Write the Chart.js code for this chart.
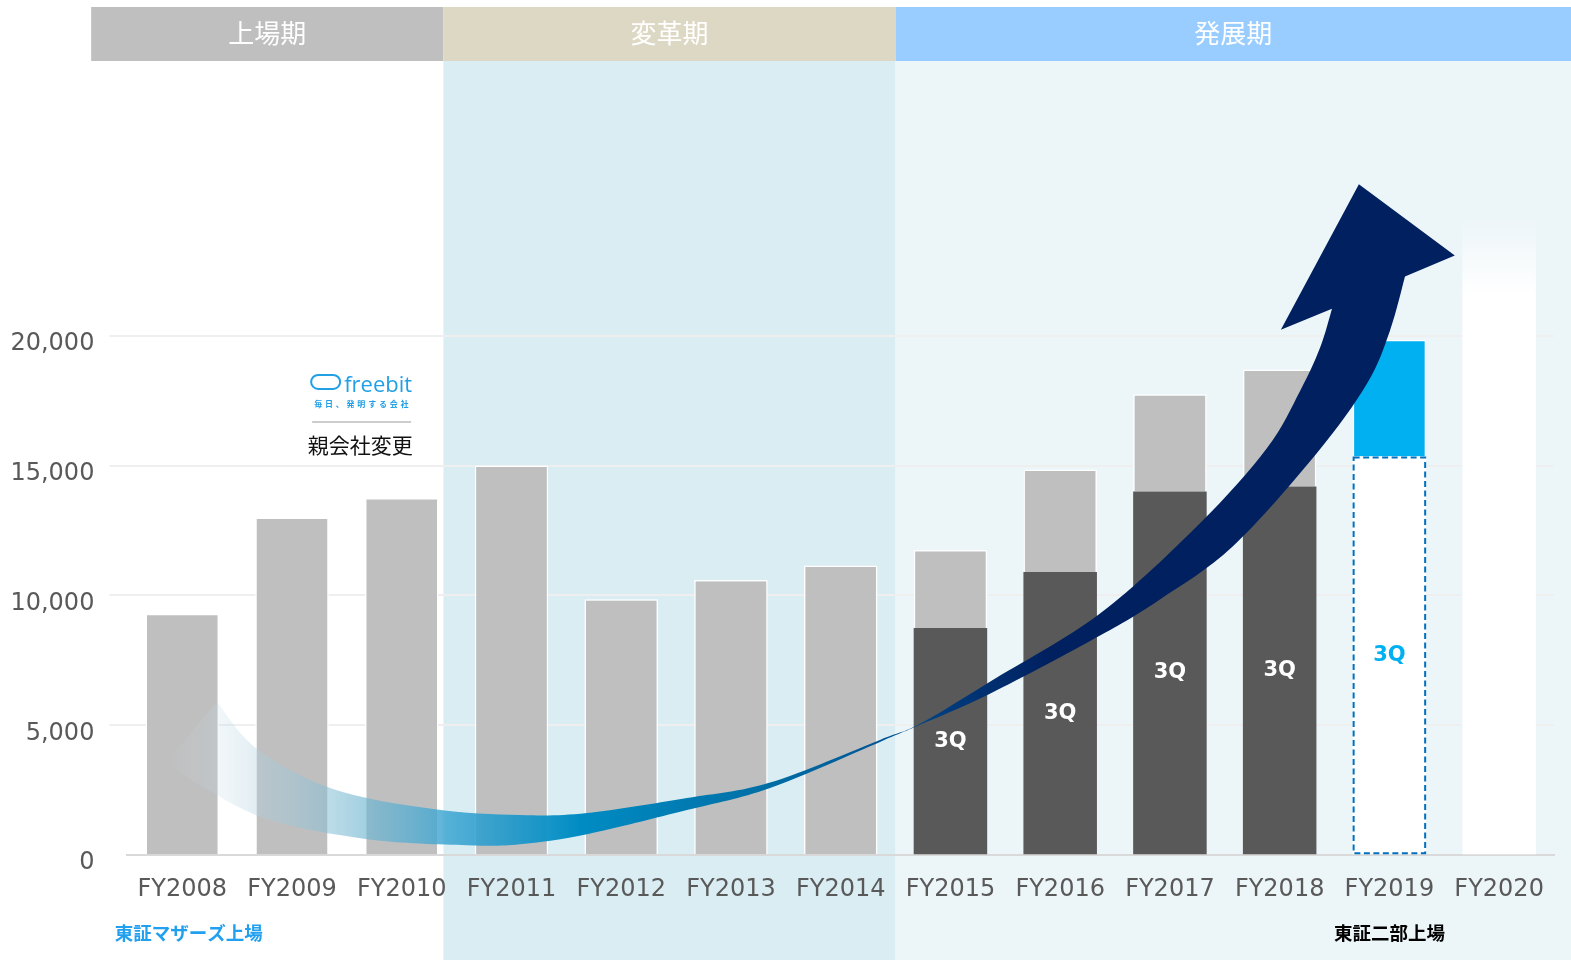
<!DOCTYPE html>
<html lang="ja">
<head>
<meta charset="UTF-8">
<title>売上高推移</title>
<script src="https://cdn.jsdelivr.net/npm/chart.js@4.4.1/dist/chart.umd.min.js"></script>
<style>
    body { margin: 0; background: #ffffff; }
    #grafico { position: relative; width: 1571px; height: 960px; }
</style>
</head>
<body>
<div id="grafico"><canvas id="vendas"></canvas></div>
<script>
// dados
const years = ["FY2008", "FY2009", "FY2010", "FY2011", "FY2012", "FY2013", "FY2014",
    "FY2015", "FY2016", "FY2017", "FY2018", "FY2019", "FY2020"];
const fullYear = [9300, 13000, 13750, 15000, 9850, 10600, 11150, 11750, 14850, 17750, 18700, 19850, 24600];
const q3 = [null, null, null, null, null, null, null, 8750, 10900, 14000, 14200, 15350, null];
const yTicks = [0, 5000, 10000, 15000, 20000];
const q3Label = "3Q";

const periods = ["上場期", "変革期", "発展期"];
const periodStart = [-0.83, 2.38, 6.5];   // em unidades de categoria
const periodHeadColor = ["#bfbfbf", "#ddd8c3", "#99ccff"];
const periodBodyColor = [null, "#daedf3", "#ecf5f8"];

const forecastIdx = years.indexOf("FY2019");
const futureIdx = years.indexOf("FY2020");

// seta (categoria, valor)
const arrowUpper = [[0.316, 5907], [0.681, 4093], [1.373, 2548], [2.285, 1776], [3.077, 1545],
    [3.688, 1622], [4.599, 2200], [5.356, 2800], [6.358, 4440], [6.722, 5058], [7.360, 6680],
    [8.363, 9305], [9.274, 12780], [9.885, 15676], [10.186, 17876], [10.368, 19537], [10.477, 21042]];
const arrowHead = [[10.011, 20230], [10.722, 25830], [11.596, 23090]];
const arrowLower = [[11.142, 22278], [11.005, 20193], [10.795, 18147], [10.340, 15483], [9.574, 11892],
    [8.909, 9846], [8.363, 8456], [7.360, 6216], [6.722, 5019], [6.358, 4363], [5.356, 2587],
    [4.599, 1737], [3.688, 811], [3.077, 425], [2.594, 386], [1.683, 618], [0.772, 1390],
    [0.161, 2703], [-0.139, 3591]];

const rest = fullYear.map((v, i) => q3[i] == null ? v : v - q3[i]);

Chart.defaults.font.family = "'DejaVu Sans', sans-serif";

// catmull-rom passando pelos pontos
function splineTo(ctx, pts) {
    for (let i = 0; i < pts.length - 1; i++) {
        const p0 = pts[i - 1] || pts[i];
        const p1 = pts[i];
        const p2 = pts[i + 1];
        const p3 = pts[i + 2] || p2;
        ctx.bezierCurveTo(
            p1[0] + (p2[0] - p0[0]) / 6, p1[1] + (p2[1] - p0[1]) / 6,
            p2[0] - (p3[0] - p1[0]) / 6, p2[1] - (p3[1] - p1[1]) / 6,
            p2[0], p2[1]);
    }
}

const bandsPlugin = {
    id: "bands",
    beforeDraw(chart) {
        const ctx = chart.ctx;
        const x = chart.scales.x;
        const edges = periodStart.map(p => x.getPixelForValue(p));
        edges.push(chart.width);
        ctx.save();
        periods.forEach((nome, i) => {
            const l = edges[i], r = edges[i + 1];
            if (periodBodyColor[i]) {
                ctx.fillStyle = periodBodyColor[i];
                ctx.fillRect(l, 61, r - l, chart.height - 61);
            }
            ctx.fillStyle = periodHeadColor[i];
            ctx.fillRect(l, 7, r - l, 54);
            ctx.fillStyle = "#ffffff";
            ctx.font = "26px 'Noto Sans CJK JP'";
            ctx.textAlign = "center";
            ctx.textBaseline = "middle";
            ctx.fillText(nome, (l + r) / 2, 33);
        });
        ctx.restore();
    }
};

const decorPlugin = {
    id: "decor",
    afterDatasetsDraw(chart) {
        const ctx = chart.ctx;
        const x = chart.scales.x, y = chart.scales.y;
        const meta0 = chart.getDatasetMeta(0);

        // borda tracejada da previsao
        const fb = meta0.data[forecastIdx];
        ctx.save();
        ctx.strokeStyle = "#0070c0";
        ctx.lineWidth = 2;
        ctx.setLineDash([6, 3.5]);
        ctx.strokeRect(fb.x - fb.width / 2 + 1, fb.y + 1, fb.width - 2, fb.base - fb.y - 2);
        ctx.restore();

        // seta
        const toPx = p => [x.getPixelForValue(p[0]), y.getPixelForValue(p[1])];
        const up = arrowUpper.map(toPx);
        const head = arrowHead.map(toPx);
        const low = arrowLower.map(toPx);
        const g0 = x.getPixelForValue(-0.14), g1 = x.getPixelForValue(7.9);
        const grad = ctx.createLinearGradient(g0, 0, g1, 0);
        grad.addColorStop(0, "rgba(215,230,238,0)");
        grad.addColorStop(0.094, "rgba(180,210,225,0.35)");
        grad.addColorStop(0.207, "rgba(120,185,210,0.6)");
        grad.addColorStop(0.32, "rgba(60,165,210,0.85)");
        grad.addColorStop(0.468, "rgb(0,140,195)");
        grad.addColorStop(0.683, "rgb(0,110,165)");
        grad.addColorStop(0.807, "rgb(0,85,150)");
        grad.addColorStop(0.898, "rgb(0,55,120)");
        grad.addColorStop(1, "rgb(0,32,96)");
        ctx.save();
        ctx.beginPath();
        ctx.moveTo(up[0][0], up[0][1]);
        splineTo(ctx, up);
        head.forEach(p => ctx.lineTo(p[0], p[1]));
        ctx.lineTo(low[0][0], low[0][1]);
        splineTo(ctx, low);
        ctx.closePath();
        ctx.fillStyle = grad;
        ctx.fill();
        ctx.restore();

        // rotulos 3Q
        ctx.save();
        ctx.font = "bold 21px 'DejaVu Sans'";
        ctx.textAlign = "center";
        ctx.textBaseline = "middle";
        meta0.data.forEach((el, i) => {
            if (q3[i] == null) return;
            ctx.fillStyle = i === forecastIdx ? "#00b0f0" : "#ffffff";
            ctx.fillText(q3Label, el.x, (el.y + el.base) / 2);
        });
        ctx.restore();

        // logo freebit / 親会社変更
        const cx = x.getPixelForValue(1.63);
        const top = y.getPixelForValue(18800);
        ctx.save();
        ctx.strokeStyle = "#22a0e6";
        ctx.lineWidth = 2;
        ctx.beginPath();
        ctx.roundRect(cx - 50, top + 8, 29, 14, 7);
        ctx.stroke();
        ctx.fillStyle = "#22a0e6";
        ctx.font = "22px 'Open Sans'";
        ctx.textAlign = "left";
        ctx.textBaseline = "alphabetic";
        ctx.fillText("freebit", cx - 17, top + 25);
        ctx.font = "bold 8px 'Noto Sans CJK JP'";
        ctx.textAlign = "center";
        ctx.textBaseline = "middle";
        Array.from("毎日、発明する会社").forEach((ch, i) => {
            ctx.fillText(ch, cx - 43 + i * 10.8, top + 37);
        });
        ctx.strokeStyle = "#bbbbbb";
        ctx.lineWidth = 1.5;
        ctx.beginPath();
        ctx.moveTo(cx - 49, top + 55);
        ctx.lineTo(cx + 50, top + 55);
        ctx.stroke();
        ctx.fillStyle = "#111111";
        ctx.font = "21px 'Noto Sans CJK JP'";
        ctx.fillText("親会社変更", cx - 1, top + 78);

        // textos de baixo
        const by = chart.chartArea.bottom + 78;
        ctx.font = "bold 18.5px 'Noto Sans CJK JP'";
        ctx.fillStyle = "#22a0f0";
        ctx.fillText("東証マザーズ上場", x.getPixelForValue(0.06), by);
        ctx.fillStyle = "#000000";
        ctx.fillText("東証二部上場", x.getPixelForValue(forecastIdx), by);
        ctx.restore();
    }
};

function restColor(ctx) {
    const i = ctx.dataIndex;
    if (i === futureIdx) {
        const chart = ctx.chart;
        const y = chart.scales.y;
        if (!y) return "#ffffff";
        const g = chart.ctx.createLinearGradient(0, y.getPixelForValue(fullYear[i]), 0, y.getPixelForValue(21600));
        g.addColorStop(0, "rgba(255,255,255,0)");
        g.addColorStop(1, "#ffffff");
        return g;
    }
    if (i === forecastIdx) return "#00b0f0";
    return "#bfbfbf";
}

document.addEventListener("DOMContentLoaded", () => {
    const vendas = document.getElementById("vendas");

    new Chart(vendas, {
        type: "bar",
        data: {
            labels: years,
            datasets: [
                {
                    label: "3Q",
                    data: q3,
                    backgroundColor: ctx => ctx.dataIndex === forecastIdx ? "#ffffff" : "#595959",
                    borderWidth: 0,
                    stack: "s"
                },
                {
                    label: "通期",
                    data: rest,
                    backgroundColor: restColor,
                    borderColor: "#ffffff",
                    borderWidth: ctx => ctx.dataIndex === futureIdx ? 0 : 1.5,
                    stack: "s"
                }
            ]
        },
        options: {
            responsive: true,
            maintainAspectRatio: false,
            animation: false,
            layout: {
                padding: { top: 76, left: 10, right: 17, bottom: 36 }
            },
            datasets: {
                bar: { categoryPercentage: 1, barPercentage: 0.67 }
            },
            plugins: {
                legend: { display: false },
                tooltip: { enabled: false }
            },
            scales: {
                x: {
                    stacked: true,
                    grid: { display: false, drawTicks: false },
                    border: { display: true, color: "#d9d9d9", width: 2 },
                    ticks: {
                        padding: 20,
                        color: "#595959",
                        font: { size: 24 }
                    }
                },
                y: {
                    stacked: true,
                    min: 0,
                    max: 30000,
                    afterBuildTicks: scale => {
                        scale.ticks = yTicks.map(v => ({ value: v }));
                    },
                    afterFit: scale => {
                        scale.width = 117.4;
                    },
                    grid: {
                        color: c => c.tick && c.tick.value === 0 ? "rgba(0,0,0,0)" : "#efefef",
                        lineWidth: 2,
                        tickLength: 18
                    },
                    border: { display: false },
                    ticks: {
                        padding: 15,
                        labelOffset: 8,
                        color: "#595959",
                        font: { size: 24 },
                        callback: v => v.toLocaleString("en-US")
                    }
                }
            }
        },
        plugins: [bandsPlugin, decorPlugin]
    });
});
</script>
</body>
</html>
